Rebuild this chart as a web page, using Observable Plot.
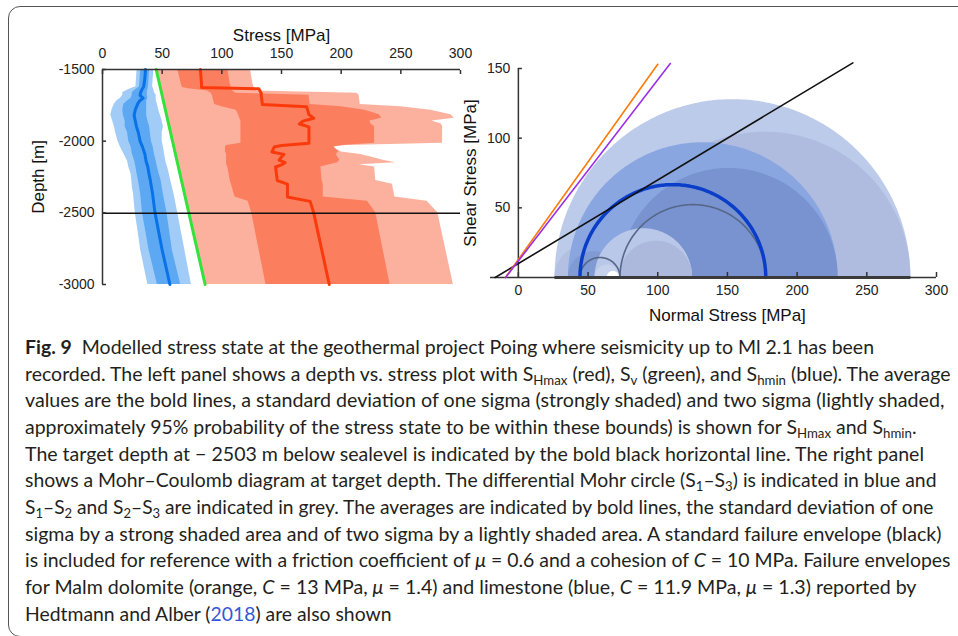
<!DOCTYPE html>
<html><head><meta charset="utf-8">
<script src="https://cdn.jsdelivr.net/npm/d3@7"></script>
<script src="https://cdn.jsdelivr.net/npm/@observablehq/plot@0.6"></script>
<style>
html,body{margin:0;padding:0;background:#fff;}
#page{position:relative;width:958px;height:636px;overflow:hidden;background:#fff;}
#frame{position:absolute;left:8px;top:6px;width:990px;height:631px;border:1.4px solid #555;border-radius:12px;box-sizing:border-box;}
#left{position:absolute;left:0;top:0;}
#right{position:absolute;left:440px;top:0;}
#caption{position:absolute;left:24.5px;top:334px;font-family:Lato,"Open Sans",sans-serif;font-size:19px;line-height:26.67px;color:#231f20;}
.ln{white-space:nowrap;height:26.67px;}
.ln .inner{display:inline-block;transform-origin:0 0;}
sub{font-size:0.68em;vertical-align:-0.28em;line-height:0;}
.lnk{color:#3558d6;}
</style></head>
<body><div id="page"><div id="frame"></div><div id="left"></div><div id="right"></div><div id="caption"></div></div>
<script>
// ---------- Left panel data (depth vs stress) ----------
const stressTicks = [0, 50, 100, 150, 200, 250, 300];
const depthTicks = [-1500, -2000, -2500, -3000];
const targetDepth = -2503;

const svDepth = [-1500, -3000];
const svValue = [45, 86];

const shminDepth = [-1500,-1560,-1620,-1640,-1660,-1680,-1700,-1720,-1740,-1780,-1820,-1860,-1900,-1940,-2000,-2040,-2090,-2140,-2180,-2230,-2270,-2320,-2370,-2500,-2760,-3000];
const shminLo2  = [29,28.5,28,22,17,17,15,12,10,8,7,8.5,10,11,13,15,18,21,22,24,24.5,25,26,27.5,32,38];
const shminLo1  = [32,31.5,31,28,25,25,24,21,18,17,17.5,19,19,21,22,24,25,27,28,29,30,31,32,33.5,39,46];
const shminMean = [36,35.5,34.5,33,32,31.5,34,31,29.5,27.5,26.5,27.5,28.5,30,31.5,33.5,35.5,36.5,38,39,40,41,42,44,50,56.5];
const shminHi1  = [39.5,39,38.5,38,37.5,37.5,38,37,37,37,37,38,39.5,40,41,42.5,43.5,45,46,47.5,49,50,51,54,58.5,65.5];
const shminHi2  = [43,42.5,42,43,43.5,45,45,45,46,47,48.5,50,51,50,50,51,52,53,54.5,56,57,58.5,60,63,69,74.5];

const shmaxDepth = [-1500,-1600,-1625,-1635,-1650,-1665,-1680,-1745,-1760,-1785,-1815,-1840,-1860,-1880,-1900,-2015,-2030,-2040,-2075,-2092,-2110,-2133,-2150,-2165,-2180,-2275,-2300,-2390,-2420,-2500,-3000];
const shmaxLo2  = [45.5,48.2,48.9,49.2,49.6,50,50.4,52.2,52.6,53.3,54.1,54.8,55.3,55.9,56.4,59.6,60,60.3,61.2,61.7,62.2,62.8,63.3,63.7,64.1,66.7,67.4,69.8,70.6,72.8,86.5];
const shmaxLo1  = [63,66,67,72,88,91,92,94,100,112,114,115,116,116,116,116,104,103,103,104,104,104,104,104,105,107,108,111,122,125,137];
const shmaxMean = [82,83,83,131,132,133,133,134,171,172,173,177,168,165,173,173,150,144,142,152,150,148,153,150,145,146.5,155,155,174,177,190];
const shmaxHi1  = [105,107,108,108,109,112,173,174,200,220,232,234,224,225,228,228,200,194,198,196,197,199,197,190,183,184,185,185,222,229,241];
const shmaxHi2  = [124,126,127,128,129,213,215,216,250,275,292,295,276,284,285,285,205,193,200,215,225,235,246,215,228,229,243,245,272,281,294];

// ---------- Right panel data (Mohr–Coulomb) ----------
const normalTicks = [0, 50, 100, 150, 200, 250, 300];
const shearTicks = [50, 100, 150];
const mohrS1 = [72.5, 125, 177.5, 229.4, 281.6];   // -2σ, -1σ, mean, +1σ, +2σ
const mohrS2 = 72.9;
const mohrS3 = [26.3, 35.9, 44.2, 55, 63.8];
const envNames = ["standard", "Malm dolomite", "limestone"];
const envCohesion = [10, 13, 11.9];
const envFriction = [0.6, 1.4, 1.3];
const envMaxNormal = [240, 100, 109];

// ---------- tables ----------
const sv = svDepth.map((d, i) => ({depth: d, value: svValue[i]}));
const shmin = shminDepth.map((d, i) => ({depth: d, lo2: shminLo2[i], lo1: shminLo1[i], mean: shminMean[i], hi1: shminHi1[i], hi2: shminHi2[i]}));
const shmax = shmaxDepth.map((d, i) => ({depth: d, lo2: shmaxLo2[i], lo1: shmaxLo1[i], mean: shmaxMean[i], hi1: shmaxHi1[i], hi2: shmaxHi2[i]}));
const fmt = d => `${d}`;
const font = "'Liberation Sans', Arial, Helvetica, sans-serif";

const left = Plot.plot({
  width: 480, height: 330,
  marginLeft: 102, marginRight: 20, marginTop: 69, marginBottom: 46,
  x: {domain: [stressTicks[0], stressTicks[stressTicks.length - 1]]},
  y: {domain: [depthTicks[depthTicks.length - 1], depthTicks[0]]},
  style: {fontFamily: font, fontSize: "14px", color: "#222", background: "transparent"},
  marks: [
    Plot.areaX(shmax, {y: "depth", x1: "lo2", x2: "hi2", fill: "#fcb19e"}),
    Plot.areaX(shmax, {y: "depth", x1: "lo1", x2: "hi1", fill: "#fb7e5e"}),
    Plot.areaX(shmin, {y: "depth", x1: "lo2", x2: "hi2", fill: "#a0ccf7"}),
    Plot.areaX(shmin, {y: "depth", x1: "lo1", x2: "hi1", fill: "#5ca8f2"}),
    Plot.lineX(shmin, {x: "mean", y: "depth", stroke: "#0a72e8", strokeWidth: 3}),
    Plot.lineX(shmax, {x: "mean", y: "depth", stroke: "#fb3a0c", strokeWidth: 3}),
    Plot.lineX(sv, {x: "value", y: "depth", stroke: "#33e23a", strokeWidth: 3}),
    Plot.ruleY([targetDepth], {x1: stressTicks[0], x2: stressTicks[stressTicks.length - 1], stroke: "#111", strokeWidth: 1.5}),
    Plot.ruleY([depthTicks[0]], {x1: stressTicks[0], x2: stressTicks[stressTicks.length - 1], stroke: "#333", strokeWidth: 1.5}),
    Plot.ruleX([stressTicks[0]], {y1: depthTicks[0], y2: depthTicks[depthTicks.length - 1], stroke: "#333", strokeWidth: 1.5}),
    Plot.axisX(stressTicks, {anchor: "top", tickSize: -4, tickPadding: 16, tickFormat: fmt, label: null, stroke: "#333", strokeWidth: 1.5}),
    Plot.axisY(depthTicks, {anchor: "left", tickSize: -4, tickPadding: 12, tickFormat: fmt, label: null, stroke: "#333", strokeWidth: 1.5}),
    Plot.text(["Stress [MPa]"], {frameAnchor: "top", dy: -41, fontSize: 17, fill: "#111"}),
    Plot.text(["Depth [m]"], {frameAnchor: "left", textAnchor: "middle", dx: -64, rotate: -90, fontSize: 17, fill: "#111"})
  ]
});
document.getElementById("left").appendChild(left);

// semicircle outline points from lower and upper principal stresses
function semi(lo, hi) {
  const c = (lo + hi) / 2, r = (hi - lo) / 2;
  return d3.range(0, 181).map(k => ({x: c + r * Math.cos(k * Math.PI / 180), y: r * Math.sin(k * Math.PI / 180)}));
}
const disks = [
  [mohrS3[0], mohrS1[4], "#bdcbeb"],
  [mohrS2, mohrS1[4], "#afbcdf"],
  [mohrS3[0], mohrS2, "#b3c0e2"],
  [mohrS3[1], mohrS1[3], "#8aa6e1"],
  [mohrS2, mohrS1[3], "#7893cf"],
  [mohrS3[1], mohrS2, "#809ad4"],
  [mohrS3[3], mohrS1[1], "#b9c7e9"],
  [mohrS2, mohrS1[1], "#acb9dd"],
  [mohrS3[3], mohrS2, "#c6d1ee"],
  [mohrS3[4], mohrS1[0], "#ffffff"]
];
const envColors = ["#111", "#ff7a0a", "#9a30e6"];
const envelopes = envNames.map((n, i) => {
  const s0 = -envCohesion[i] / envFriction[i];
  return [{x: s0, y: 0}, {x: envMaxNormal[i], y: envCohesion[i] + envFriction[i] * envMaxNormal[i]}];
});

const rW = 518, rML = 50, rMR = 22;
const xDom = [-20, normalTicks[normalTicks.length - 1]];
const yAxisDx = (0 - xDom[0]) / (xDom[1] - xDom[0]) * (rW - rML - rMR);

const right = Plot.plot({
  width: rW, height: 330,
  marginLeft: rML, marginRight: rMR, marginTop: 68, marginBottom: 53,
  x: {domain: xDom},
  y: {domain: [0, shearTicks[shearTicks.length - 1]]},
  style: {fontFamily: font, fontSize: "14px", color: "#222", background: "transparent"},
  marks: [
    ...disks.map(([lo, hi, f]) => Plot.areaY(semi(lo, hi), {x: "x", y: "y", fill: f})),
    Plot.line(semi(mohrS3[2], mohrS2), {x: "x", y: "y", stroke: "#56678a", strokeWidth: 1.6}),
    Plot.line(semi(mohrS2, mohrS1[2]), {x: "x", y: "y", stroke: "#56678a", strokeWidth: 1.6}),
    Plot.line(semi(mohrS3[2], mohrS1[2]), {x: "x", y: "y", stroke: "#0a3ec8", strokeWidth: 3.5}),
    Plot.ruleY([0], {x1: xDom[0], x2: xDom[1], stroke: "#333", strokeWidth: 1.5}),
    Plot.ruleY([0], {x1: mohrS3[0], x2: mohrS1[4], stroke: "#3a3a3a", strokeWidth: 3}),
    Plot.ruleX([0], {y1: 0, y2: shearTicks[shearTicks.length - 1], stroke: "#333", strokeWidth: 1.5}),
    ...envelopes.map((pts, i) => Plot.line(pts, {x: "x", y: "y", stroke: envColors[i], strokeWidth: 1.6})),
    Plot.axisX(normalTicks, {anchor: "bottom", tickSize: -5, tickPadding: 13, tickFormat: fmt, label: null, stroke: "#333", strokeWidth: 1.5}),
    Plot.axisY(shearTicks, {anchor: "left", dx: yAxisDx, tickSize: -4, tickPadding: 12, tickFormat: fmt, label: null, stroke: "#333", strokeWidth: 1.5}),
    Plot.text(["Normal Stress [MPa]"], {x: () => (normalTicks[0] + normalTicks[normalTicks.length - 1]) / 2, frameAnchor: "bottom", dy: 43, fontSize: 17, fill: "#111"}),
    Plot.text(["Shear Stress [MPa]"], {frameAnchor: "left", textAnchor: "middle", dx: -20, rotate: -90, fontSize: 17, fill: "#111"})
  ]
});
document.getElementById("right").appendChild(right);

// ---------- Caption ----------
const captionLines = [
  '<b>Fig. 9</b>&nbsp; Modelled stress state at the geothermal project Poing where seismicity up to Ml 2.1 has been',
  'recorded. The left panel shows a depth vs. stress plot with S<sub>Hmax</sub> (red), S<sub>v</sub> (green), and S<sub>hmin</sub> (blue). The average',
  'values are the bold lines, a standard deviation of one sigma (strongly shaded) and two sigma (lightly shaded,',
  'approximately 95% probability of the stress state to be within these bounds) is shown for S<sub>Hmax</sub> and S<sub>hmin</sub>.',
  'The target depth at − 2503 m below sealevel is indicated by the bold black horizontal line. The right panel',
  'shows a Mohr–Coulomb diagram at target depth. The differential Mohr circle (S<sub>1</sub>–S<sub>3</sub>) is indicated in blue and',
  'S<sub>1</sub>–S<sub>2</sub> and S<sub>2</sub>–S<sub>3</sub> are indicated in grey. The averages are indicated by bold lines, the standard deviation of one',
  'sigma by a strong shaded area and of two sigma by a lightly shaded area. A standard failure envelope (black)',
  'is included for reference with a friction coefficient of <i>μ</i> = 0.6 and a cohesion of <i>C</i> = 10 MPa. Failure envelopes',
  'for Malm dolomite (orange, <i>C</i> = 13 MPa, <i>μ</i> = 1.4) and limestone (blue, <i>C</i> = 11.9 MPa, <i>μ</i> = 1.3) reported by',
  'Hedtmann and Alber (<span class="lnk">2018</span>) are also shown'
];
const captionWidths = [849, 925.5, 919.5, 891.5, 899, 911.5, 908.5, 916.5, 925.5, 891.5, 366.5];
const cap = document.getElementById("caption");
captionLines.forEach((h, i) => {
  const ln = document.createElement("div");
  ln.className = "ln";
  const inner = document.createElement("span");
  inner.className = "inner";
  inner.innerHTML = h;
  ln.appendChild(inner);
  cap.appendChild(ln);
  const w = inner.getBoundingClientRect().width;
  inner.style.transform = `scaleX(${captionWidths[i] / w})`;
});
</script></body></html>
